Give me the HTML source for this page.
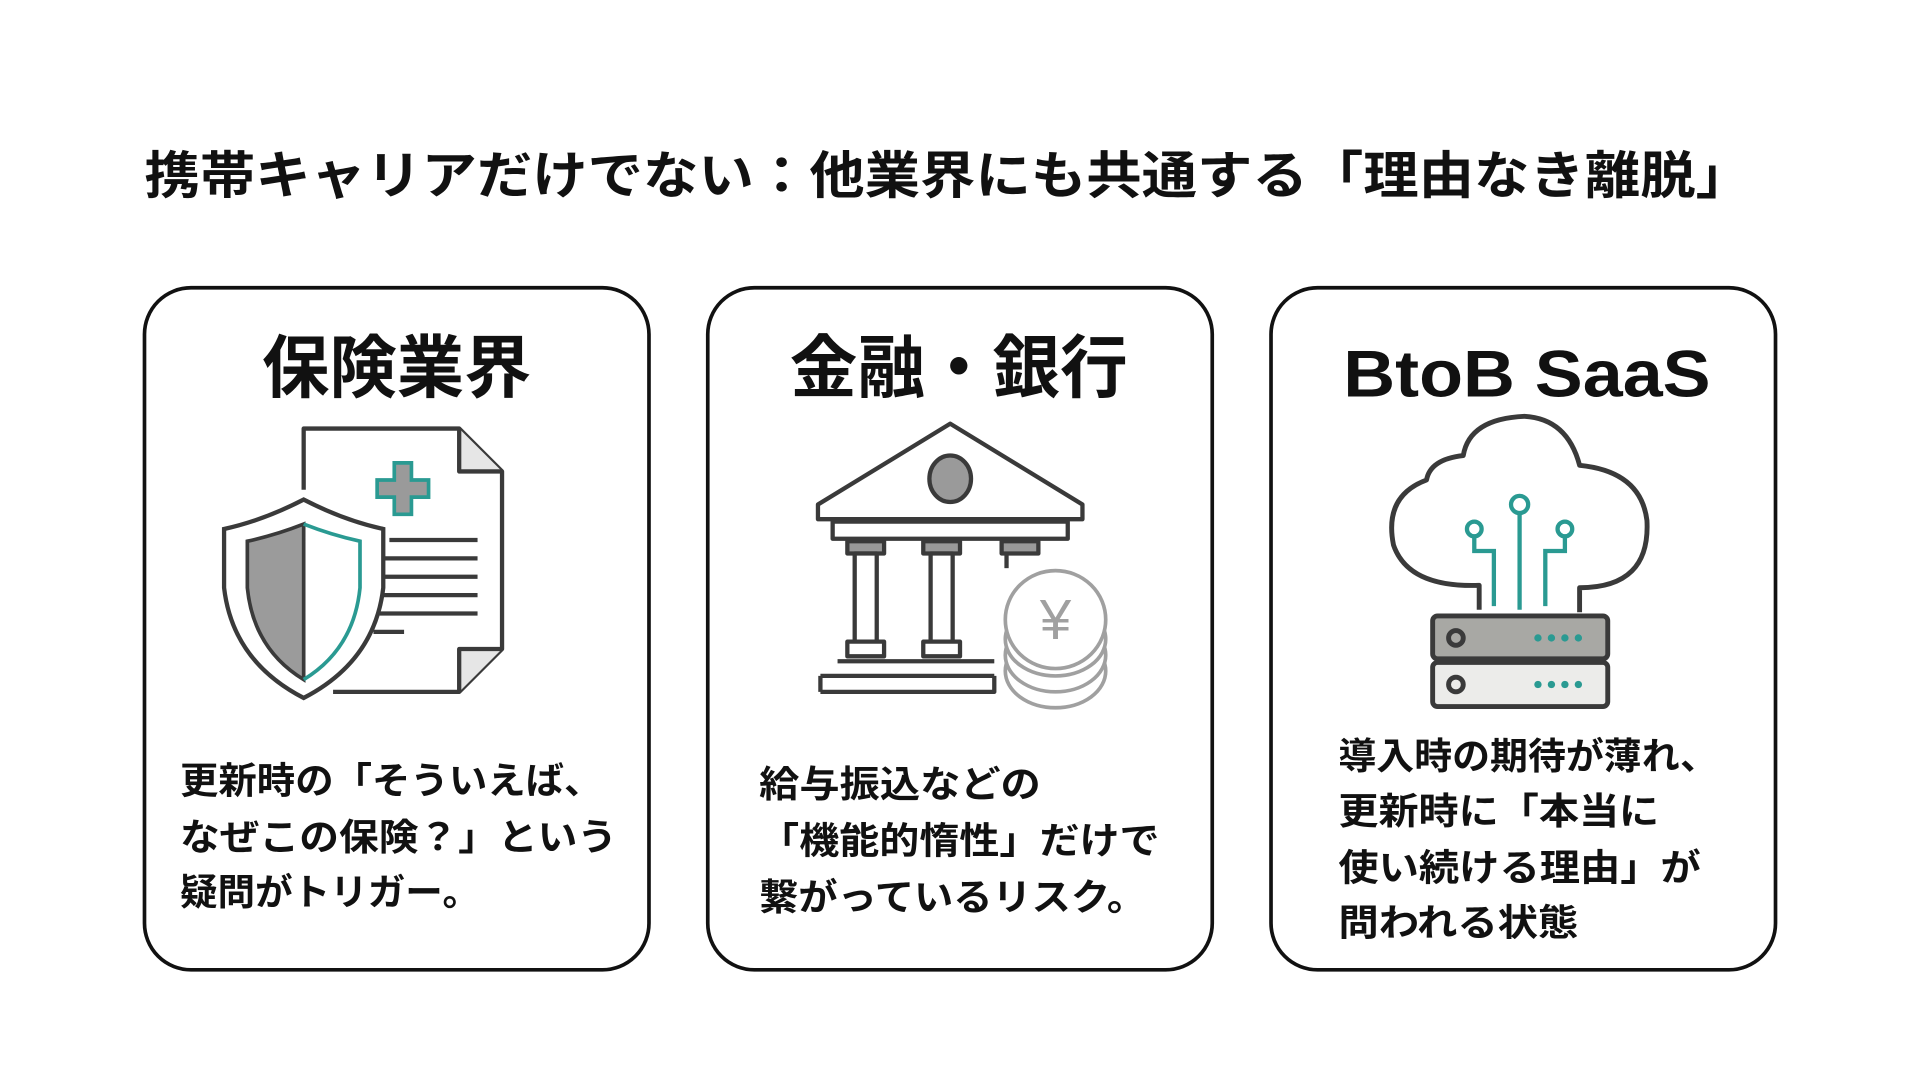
<!DOCTYPE html>
<html><head><meta charset="utf-8"><style>
html,body{margin:0;padding:0;background:#fff;}
svg{display:block}
text{font-family:"Liberation Sans","Noto Sans CJK JP",sans-serif;font-weight:bold;fill:#111}
.j{font-family:"Noto Sans CJK JP","Liberation Sans",sans-serif}
</style></head><body>
<svg width="1920" height="1080" viewBox="0 0 1568 882" xmlns="http://www.w3.org/2000/svg">
<rect width="1568" height="882" fill="#fff"/>
<text class="j" x="118" y="158" font-size="42" textLength="1312" lengthAdjust="spacingAndGlyphs">携帯キャリアだけでない：他業界にも共通する「理由なき離脱」</text>

<g fill="none" stroke="#111" stroke-width="3">
<rect x="118" y="235" width="412" height="557" rx="38"/>
<rect x="578" y="235" width="412" height="557" rx="38"/>
<rect x="1038" y="235" width="412" height="557" rx="38"/>
</g>

<text class="j" x="324" y="320" font-size="56" text-anchor="middle" textLength="220" lengthAdjust="spacingAndGlyphs">保険業界</text>
<text class="j" x="783" y="320" font-size="56" text-anchor="middle" textLength="276" lengthAdjust="spacingAndGlyphs">金融・銀行</text>
<text x="1247" y="324" font-size="54" text-anchor="middle" textLength="300" lengthAdjust="spacingAndGlyphs">BtoB  SaaS</text>

<!-- insurance icon -->
<g fill="none" stroke="#3a3a3a" stroke-width="3.5" stroke-linejoin="round">
<path d="M248,400 L248,350 L375,350 L410,385 L410,530 L375,565 L272,565"/>
<path d="M375,350 L375,385 L410,385" fill="#e6e6e6"/>
<path d="M410,530 L375,530 L375,565" fill="#e6e6e6"/>
<path d="M318,441 H390 M313,456 H390 M310,471 H390 M310,486 H390 M310,501 H390 M305,516 H330"/>
</g>
<path d="M322,378 h14 v14 h14 v14 h-14 v14 h-14 v-14 h-14 v-14 h14 z" fill="#9a9a9a" stroke="#2a9a92" stroke-width="3"/>
<path d="M248,408 Q215,425 183,432 L183,480 Q190,540 248,570 Q306,540 313,480 L313,432 Q281,425 248,408Z" fill="#fff" stroke="#3a3a3a" stroke-width="3.5"/>
<path d="M248,428 Q225,437 202,442 L202,480 Q207,530 248,555 Z" fill="#9b9b9b" stroke="#3a3a3a" stroke-width="3"/>
<path d="M248,428 Q271,437 294,442 L294,480 Q289,530 248,555" fill="none" stroke="#2a9a92" stroke-width="3"/>

<!-- bank icon -->
<g stroke="#3a3a3a" stroke-width="3.5" fill="#fff" stroke-linejoin="round">
<path d="M668,412 L776,346 L884,412 L884,424 L668,424Z"/>
<ellipse cx="776" cy="391" rx="17" ry="19" fill="#9a9a9a"/>
<rect x="680" y="426" width="192" height="14"/>
<rect x="692" y="442" width="30" height="10" fill="#9a9a9a"/>
<rect x="754" y="442" width="30" height="10" fill="#9a9a9a"/>
<rect x="818" y="442" width="30" height="10" fill="#9a9a9a"/>
<rect x="698" y="452" width="18" height="72"/>
<rect x="760" y="452" width="18" height="72"/>
<rect x="692" y="524" width="30" height="12"/>
<rect x="754" y="524" width="30" height="12"/>
<path d="M822,452 v12"/>
<path d="M684,540 H812 M670,552 H812 M670,565 H812 L812,552 M670,552 V565" fill="none"/>
</g>
<g stroke="#a0a0a0" stroke-width="3" fill="#fff">
<ellipse cx="862" cy="548" rx="41" ry="30"/>
<ellipse cx="862" cy="535" rx="41" ry="30"/>
<ellipse cx="862" cy="522" rx="41" ry="30"/>
<ellipse cx="862" cy="506" rx="41" ry="40"/>
</g>
<text x="862" y="522" font-size="46" text-anchor="middle" style="fill:#a0a0a0;font-weight:normal">¥</text>

<!-- cloud icon -->
<path d="M1208,498 V478 Q1150,480 1138,445 Q1130,405 1165,392 Q1168,375 1195,372 Q1200,342 1245,340 Q1280,342 1290,380 Q1340,385 1345,425 Q1348,480 1290,480 V500" fill="none" stroke="#3a3a3a" stroke-width="4" stroke-linejoin="round"/>
<g fill="none" stroke="#2a9a92" stroke-width="3.5">
<circle cx="1241" cy="412" r="7"/>
<circle cx="1204" cy="432" r="6"/>
<circle cx="1278" cy="432" r="6"/>
<path d="M1241,419 V498 M1204,438 V450 H1220 V495 M1278,438 V450 H1262 V495"/>
</g>
<g stroke="#3a3a3a" stroke-width="4">
<rect x="1170" y="503" width="143" height="35" rx="4" fill="#a8a8a4"/>
<rect x="1170" y="541" width="143" height="36" rx="4" fill="#ececea"/>
<circle cx="1189" cy="521" r="6" fill="none"/>
<circle cx="1189" cy="559" r="6" fill="none"/>
</g>
<g fill="#2a9a92">
<circle cx="1256" cy="521" r="3"/><circle cx="1267" cy="521" r="3"/><circle cx="1278" cy="521" r="3"/><circle cx="1289" cy="521" r="3"/>
<circle cx="1256" cy="559" r="3"/><circle cx="1267" cy="559" r="3"/><circle cx="1278" cy="559" r="3"/><circle cx="1289" cy="559" r="3"/>
</g>

<!-- body texts -->
<g class="j" font-size="30">
<text class="j" x="147" y="648" textLength="345" lengthAdjust="spacingAndGlyphs">更新時の「そういえば、</text>
<text class="j" x="147" y="694" textLength="357" lengthAdjust="spacingAndGlyphs">なぜこの保険？」という</text>
<text class="j" x="147" y="739" textLength="245" lengthAdjust="spacingAndGlyphs">疑問がトリガー。</text>

<text class="j" x="620" y="651" textLength="230" lengthAdjust="spacingAndGlyphs">給与振込などの</text>
<text class="j" x="620" y="697" textLength="327" lengthAdjust="spacingAndGlyphs">「機能的惰性」だけで</text>
<text class="j" x="620" y="743" textLength="316" lengthAdjust="spacingAndGlyphs">繋がっているリスク。</text>

<text class="j" x="1093" y="628" textLength="310" lengthAdjust="spacingAndGlyphs">導入時の期待が薄れ、</text>
<text class="j" x="1093" y="673" textLength="262" lengthAdjust="spacingAndGlyphs">更新時に「本当に</text>
<text class="j" x="1093" y="719" textLength="296" lengthAdjust="spacingAndGlyphs">使い続ける理由」が</text>
<text class="j" x="1093" y="764" textLength="196" lengthAdjust="spacingAndGlyphs">問われる状態</text>
</g>
</svg>
</body></html>
